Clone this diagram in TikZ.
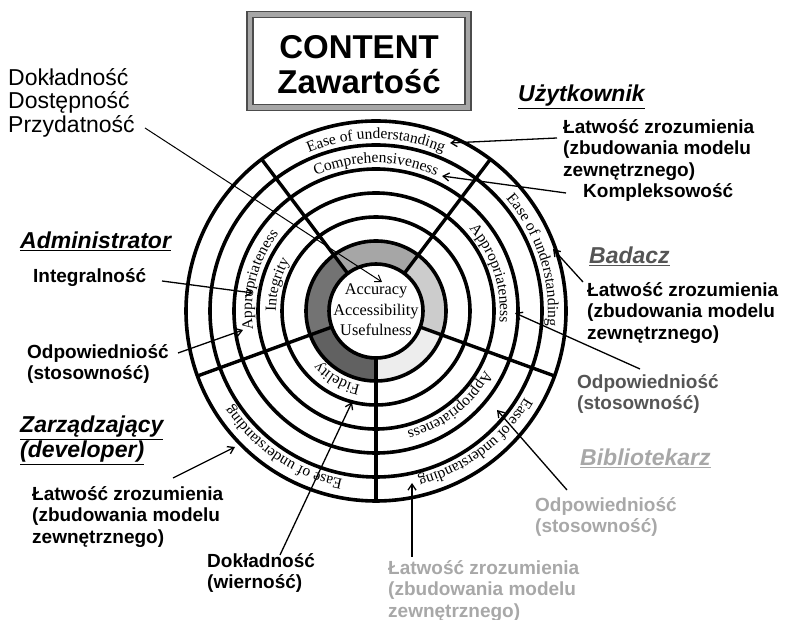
\documentclass[tikz,border=0pt]{standalone}
\usepackage{fontspec}
\setmainfont{Liberation Serif}
\newfontfamily\arialfont{Liberation Sans}
\usetikzlibrary{decorations.text, arrows.meta}
\newcommand\labfont{\arialfont\bfseries\fontsize{19}{21.5}\selectfont}
\newcommand\headfont{\arialfont\bfseries\itshape\fontsize{23}{25}\selectfont}
\newcommand\plainlab{\arialfont\fontsize{23}{23.5}\selectfont}
\newcommand\ringfont{\fontsize{15.5}{15.5}\selectfont}
\newcommand\greysec[3]{\fill[#3] (#1:47pt) arc[start angle=#1,end angle=#2,radius=47pt] -- (#2:70pt) arc[start angle=#2,end angle=#1,radius=70pt] -- cycle;}
\newcommand\ringtext[3]{\path[decorate,decoration={text along path, text align=center, text={|\ringfont|#3}}] ({#1+70}:#2pt) arc[start angle={#1+70}, end angle={#1-70}, radius=#2pt];}
\definecolor{dimtext}{HTML}{555555}
\definecolor{paletext}{HTML}{A8A8A8}
\begin{document}
\begin{tikzpicture}[x=1pt,y=1pt,
  ring/.style={line width=3.6pt},
  spoke/.style={line width=3.4pt},
  conn/.style={line width=1.3pt, -{Straight Barb[length=6pt,width=8pt]}},
  lab/.style={anchor=north west, inner sep=0pt, align=left, font=\labfont},
  head/.style={anchor=north west, inner sep=0pt, align=left, font=\headfont},
  titlebox/.style={draw=black!70, line width=1.5pt, double=black!35, double distance=4.5pt, inner sep=0pt},
  titletext/.style={inner sep=0pt, align=center, font=\arialfont\bfseries\fontsize{33}{35}\selectfont}
]
\useasboundingbox (0,0) rectangle (786,620);
\fill[white] (0,0) rectangle (786,620);

% title box
\node[titlebox, minimum width=218pt, minimum height=93pt] (title) at (359,559) {};
\node[titletext] (titletxt) at (359,555) {CONTENT\\Zawartość};

\begin{scope}[shift={(376,309)}]
  \greysec{53}{127}{black!35}
  \greysec{127}{200}{black!55}
  \greysec{200}{270}{black!62}
  \greysec{270}{340}{black!7}
  \greysec{340}{413}{black!20}
  \foreach \r in {47,70,94,118,142,166,190} \draw[ring] (0,0) circle[radius=\r pt];
  \foreach \a in {53,127,200,270,340} \draw[spoke] (\a:47pt) -- (\a:190pt);
  \ringtext{90}{172}{Ease of understanding}
  \ringtext{90}{148}{Comprehensiveness}
  \ringtext{18}{172}{Ease of understanding}
  \ringtext{18}{124}{Appropriateness}
  \ringtext{-52}{124}{Appropriateness}
  \ringtext{-53}{172}{Ease of understanding}
  \ringtext{236}{172}{Ease of understanding}
  \ringtext{240}{76}{Fidelity}
  \ringtext{165}{124}{Appropriateness}
  \ringtext{165}{100}{Integrity}
  \node[font=\fontsize{16.3}{20.5}\selectfont, align=center, inner sep=0pt] (core) at (0,1) {Accuracy\\Accessibility\\Usefulness};
\end{scope}

% labels
\node[anchor=north west, inner sep=0pt, align=left, font=\plainlab] (dok) at (8,552) {Dokładność\\Dostępność\\Przydatność};

\node[head] (user) at (518,535) {\underline{Użytkownik}};
\node[lab] (userease) at (563,501) {Łatwość zrozumienia\\(zbudowania modelu\\zewnętrznego)};
\node[lab] (usercomp) at (583,437) {Kompleksowość};

\node[head] (admin) at (20,388) {\underline{Administrator}};
\node[lab] (adminint) at (33,352) {Integralność};
\node[lab] (adminapp) at (27,276) {Odpowiedniość\\(stosowność)};

\node[head, text=dimtext] (res) at (589,373) {\underline{Badacz}};
\node[lab] (resease) at (587,338) {Łatwość zrozumienia\\(zbudowania modelu\\zewnętrznego)};
\node[lab, text=dimtext] (resapp) at (577,246) {Odpowiedniość\\(stosowność)};

\node[head] (dev) at (20,204) {\underline{Zarządzający}\\\underline{(developer)}};
\node[lab] (devease) at (32,134) {Łatwość zrozumienia\\(zbudowania modelu\\zewnętrznego)};
\node[lab] (devfid) at (207,67) {Dokładność\\(wierność)};

\node[head, text=paletext] (lib) at (580,171) {\underline{Bibliotekarz}};
\node[lab, text=paletext] (libapp) at (535,123) {Odpowiedniość\\(stosowność)};
\node[lab, text=paletext] (libease) at (388,60) {Łatwość zrozumienia\\(zbudowania modelu\\zewnętrznego)};

% connector ends
\coordinate (s1) at (145,492);  \coordinate (t1) at (382,338);
\coordinate (s2) at (557,482);  \coordinate (t2) at (450,477);
\coordinate (s3) at (566,427);  \coordinate (t3) at (442,444);
\coordinate (s4) at (583,338);  \coordinate (t4) at (553,371);
\coordinate (s5) at (640,251);  \coordinate (t5) at (515,307);
\coordinate (s6) at (162,339);  \coordinate (t6) at (253,327);
\coordinate (s7) at (178,267);  \coordinate (t7) at (243,290);
\coordinate (s8) at (173,142);  \coordinate (t8) at (235,173);
\coordinate (s9) at (280,65);   \coordinate (t9) at (352,218);
\coordinate (s10) at (412,63);  \coordinate (t10) at (412,137);
\coordinate (s11) at (567,130); \coordinate (t11) at (497,210);

\draw[conn, line width=1pt] (s1) -- (t1);
\foreach \i in {2,...,11} \draw[conn] (s\i) -- (t\i);
\end{tikzpicture}
\end{document}
